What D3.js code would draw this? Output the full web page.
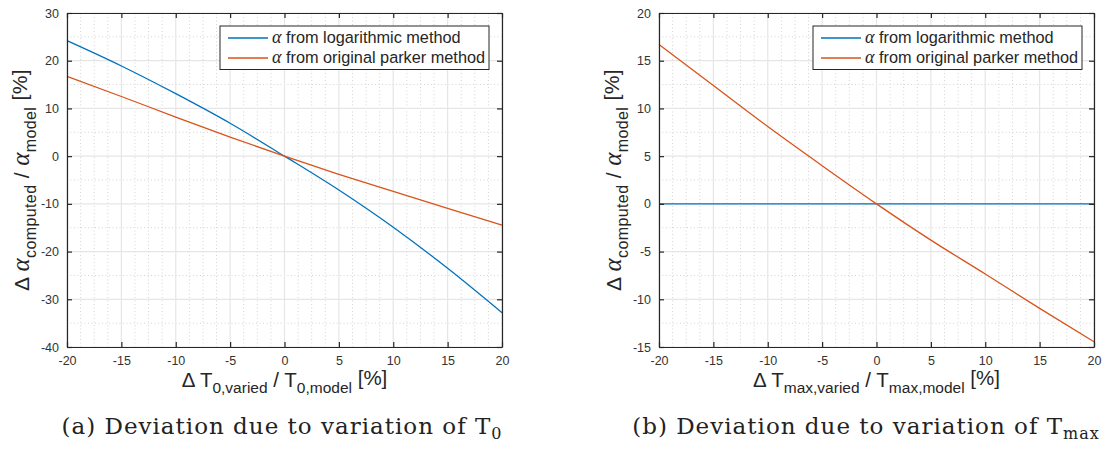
<!DOCTYPE html>
<html>
<head>
<meta charset="utf-8">
<script src="https://cdn.jsdelivr.net/npm/d3@7"></script>
<style>
  body { margin: 0; background: #fff; }
  svg { display: block; }
  text { font-family: "Liberation Sans", Arial, sans-serif; }
</style>
</head>
<body>
<svg id="chart" width="1105" height="450"></svg>
<script>
// values (percent deviation)
const xVals = [-20, -15, -10, -5, 0, 5, 10, 15, 20];
const logT0 = [24.2, 18.9, 13.1, 6.9, 0, -7.1, -14.9, -23.5, -32.8];
const parkerT0 = [16.7, 12.5, 8.2, 4.0, 0, -3.8, -7.4, -10.95, -14.45];
const logTmax = [0, 0, 0, 0, 0, 0, 0, 0, 0];
const parkerTmax = [16.7, 12.4, 8.1, 4.0, 0, -3.8, -7.35, -10.95, -14.45];

const xTicks = [-20, -15, -10, -5, 0, 5, 10, 15, 20];
const yTicksA = [-40, -30, -20, -10, 0, 10, 20, 30];
const yTicksB = [-15, -10, -5, 0, 5, 10, 15, 20];
const legendLabels = ["from logarithmic method", "from original parker method"];

const blue = "#0072BD";
const red = "#D95319";
const axisColor = "#262626";
const greek = "'Liberation Serif', 'Times New Roman', serif";

const svg = d3.select("#chart");

function drawPanel(cfg) {
    const x = d3.scaleLinear().domain([-20, 20]).range([cfg.left, cfg.right]);
    const y = d3.scaleLinear().domain(cfg.yDomain).range([347, 13]);
    const g = svg.append("g");

    // minor grid (dotted)
    const xMinor = d3.range(-20, 20.001, 1.25).filter(v => Math.abs(v % 5) > 0.01);
    const yMinor = d3.range(cfg.yDomain[0], cfg.yDomain[1] + 0.001, cfg.yStep / 2)
        .filter(v => !cfg.yTicks.includes(v));
    g.selectAll(".xminor").data(xMinor).enter().append("line")
        .attr("x1", d => x(d)).attr("x2", d => x(d))
        .attr("y1", y.range()[0]).attr("y2", y.range()[1])
        .attr("stroke", "#d4d4d4").attr("stroke-dasharray", "1,2.5");
    g.selectAll(".yminor").data(yMinor).enter().append("line")
        .attr("y1", d => y(d)).attr("y2", d => y(d))
        .attr("x1", cfg.left).attr("x2", cfg.right)
        .attr("stroke", "#d4d4d4").attr("stroke-dasharray", "1,2.5");

    // major grid
    g.selectAll(".xgrid").data(xTicks).enter().append("line")
        .attr("x1", d => x(d)).attr("x2", d => x(d))
        .attr("y1", y.range()[0]).attr("y2", y.range()[1])
        .attr("stroke", "#e6e6e6").attr("stroke-width", 1.2);
    g.selectAll(".ygrid").data(cfg.yTicks).enter().append("line")
        .attr("y1", d => y(d)).attr("y2", d => y(d))
        .attr("x1", cfg.left).attr("x2", cfg.right)
        .attr("stroke", "#e6e6e6").attr("stroke-width", 1.2);

    // data lines
    const line = d3.line().x((d, i) => x(xVals[i])).y(d => y(d)).curve(d3.curveMonotoneX);
    g.append("path").attr("d", line(cfg.log)).attr("fill", "none")
        .attr("stroke", blue).attr("stroke-width", 1.3);
    g.append("path").attr("d", line(cfg.parker)).attr("fill", "none")
        .attr("stroke", red).attr("stroke-width", 1.3);

    // axes (box with ticks inside), plain hyphen minus like MATLAB
    const fmt = d => String(d);
    const xAxisB = d3.axisBottom(x).tickValues(xTicks).tickSizeInner(-5).tickSizeOuter(0).tickPadding(9).tickFormat(fmt);
    const xAxisT = d3.axisTop(x).tickValues(xTicks).tickSizeInner(-5).tickSizeOuter(0).tickFormat("");
    const yAxisL = d3.axisLeft(y).tickValues(cfg.yTicks).tickSizeInner(-5).tickSizeOuter(0).tickPadding(8).tickFormat(fmt);
    const yAxisR = d3.axisRight(y).tickValues(cfg.yTicks).tickSizeInner(-5).tickSizeOuter(0).tickFormat("");

    g.append("g").attr("transform", "translate(0,347)").call(xAxisB);
    g.append("g").attr("transform", "translate(0,13)").call(xAxisT);
    g.append("g").attr("transform", `translate(${cfg.left},0)`).call(yAxisL);
    g.append("g").attr("transform", `translate(${cfg.right},0)`).call(yAxisR);
    g.selectAll(".domain, .tick line").attr("stroke", axisColor).attr("stroke-width", 1.2);
    g.selectAll(".tick text").attr("fill", "#333").style("font-size", "12.5px")
        .style("font-family", "'Liberation Sans', Arial, sans-serif");

    // legend
    const lg = g.append("g");
    lg.append("rect").attr("x", cfg.legendX).attr("y", 26)
        .attr("width", cfg.legendW).attr("height", 43.5)
        .attr("fill", "#fff").attr("stroke", axisColor).attr("stroke-width", 1);
    [blue, red].forEach((c, i) => {
        const yy = 38 + i * 20;
        lg.append("line").attr("x1", cfg.legendX + 8).attr("x2", cfg.legendX + 48)
            .attr("y1", yy).attr("y2", yy).attr("stroke", c).attr("stroke-width", 1.3);
        const t = lg.append("text").attr("x", cfg.legendX + 52).attr("y", yy + 5)
            .attr("fill", axisColor).style("font-size", "16.3px");
        t.append("tspan").text("α").style("font-family", greek)
            .style("font-style", "italic").style("font-size", "18px");
        t.append("tspan").text(" " + legendLabels[i]);
    });

    // x label
    const xl = g.append("text").attr("x", (cfg.left + cfg.right) / 2).attr("y", 387)
        .attr("text-anchor", "middle").attr("fill", axisColor).style("font-size", "20.5px");
    xl.append("tspan").text("Δ T");
    xl.append("tspan").text(cfg.sub1).attr("dy", 6).style("font-size", "15.5px");
    xl.append("tspan").text(" / T").attr("dy", -6);
    xl.append("tspan").text(cfg.sub2).attr("dy", 6).style("font-size", "15.5px");
    xl.append("tspan").text(" [%]").attr("dy", -8);

    // y label
    const yl = g.append("text")
        .attr("transform", `translate(${cfg.left - 38},180) rotate(-90)`)
        .attr("text-anchor", "middle").attr("fill", axisColor).style("font-size", "21px")
        .style("letter-spacing", "0.4px");
    yl.append("tspan").text("Δ  ");
    yl.append("tspan").text("α").style("font-family", greek).style("font-style", "italic").style("font-size", "25px");
    yl.append("tspan").text("computed").attr("dy", 7).style("font-size", "16px");
    yl.append("tspan").text(" / ").attr("dy", -7);
    yl.append("tspan").text("α").style("font-family", greek).style("font-style", "italic").style("font-size", "25px");
    yl.append("tspan").text("model").attr("dy", 7).style("font-size", "16px");
    yl.append("tspan").text(" [%]").attr("dy", -9);

    // caption
    const cap = g.append("text").attr("x", cfg.capX).attr("y", 434)
        .attr("text-anchor", "middle").attr("fill", "#222")
        .style("font-family", "'DejaVu Serif', serif").style("font-size", "23px")
        .style("letter-spacing", "1px");
    cap.append("tspan").text(cfg.caption);
    cap.append("tspan").text(cfg.capSub).attr("dy", 5).style("font-size", "16px");
}

drawPanel({
    left: 67, right: 502, yDomain: [-40, 30], yStep: 10, yTicks: yTicksA,
    log: logT0, parker: parkerT0, legendX: 220, legendW: 269,
    sub1: "0,varied", sub2: "0,model",
    caption: "(a) Deviation due to variation of T", capSub: "0", capX: 282
});
drawPanel({
    left: 659, right: 1094, yDomain: [-15, 20], yStep: 5, yTicks: yTicksB,
    log: logTmax, parker: parkerTmax, legendX: 813, legendW: 269,
    sub1: "max,varied", sub2: "max,model",
    caption: "(b) Deviation due to variation of T", capSub: "max", capX: 866
});
</script>
</body>
</html>
